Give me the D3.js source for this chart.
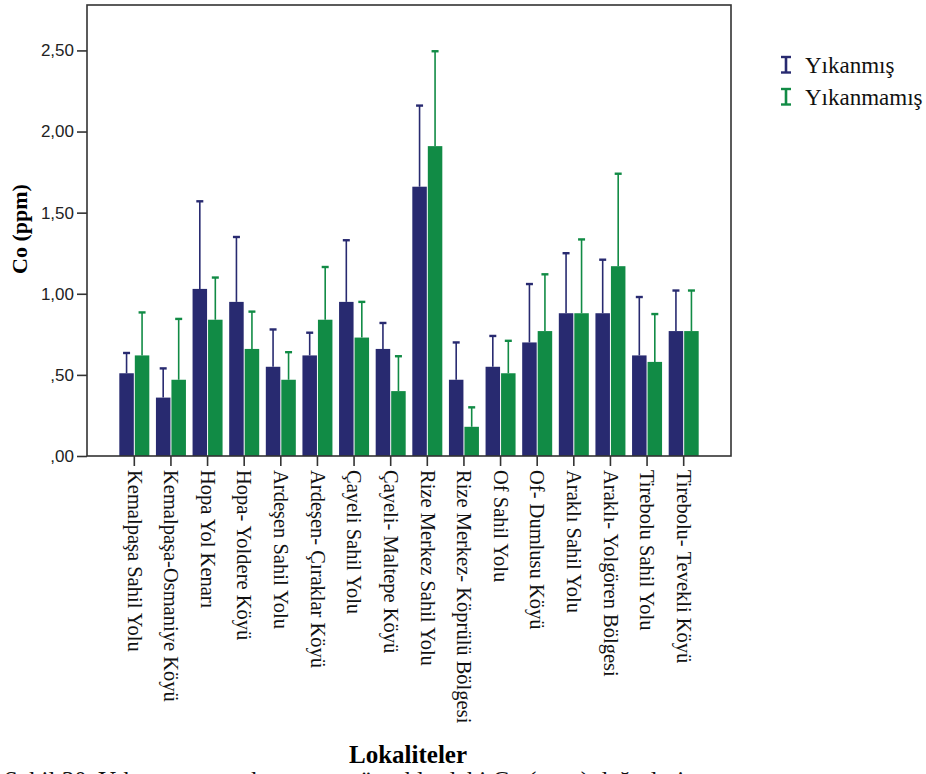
<!DOCTYPE html>
<html>
<head>
<meta charset="utf-8">
<script src="https://d3js.org/d3.v7.min.js"></script>
<style>
  body { margin: 0; background: #fff; }
  svg { display: block; }
</style>
</head>
<body>
<svg id="chart" width="926" height="774"></svg>
<script>
  // lokaliteler (categories)
  var lokaliteler = [
    "Kemalpaşa Sahil Yolu", "Kemalpaşa-Osmaniye Köyü", "Hopa Yol Kenarı",
    "Hopa- Yoldere Köyü", "Ardeşen Sahil Yolu", "Ardeşen- Çıraklar Köyü",
    "Çayeli Sahil Yolu", "Çayeli- Maltepe Köyü", "Rize Merkez Sahil Yolu",
    "Rize Merkez- Köprülü Bölgesi", "Of Sahil Yolu", "Of- Dumlusu Köyü",
    "Araklı Sahil Yolu", "Araklı- Yolgören Bölgesi", "Tirebolu Sahil Yolu",
    "Tirebolu- Tevekli Köyü"
  ];

  // mean values (ppm)
  var yikanmis   = [0.51, 0.36, 1.03, 0.95, 0.55, 0.62, 0.95, 0.66, 1.66, 0.47, 0.55, 0.70, 0.88, 0.88, 0.62, 0.77];
  var yikanmamis = [0.62, 0.47, 0.84, 0.66, 0.47, 0.84, 0.73, 0.40, 1.91, 0.18, 0.51, 0.77, 0.88, 1.17, 0.58, 0.77];

  // upper end of the error bars
  var yikanmisUst   = [0.635, 0.54, 1.57, 1.35, 0.78, 0.76, 1.33, 0.82, 2.16, 0.70, 0.74, 1.06, 1.25, 1.21, 0.98, 1.02];
  var yikanmamisUst = [0.885, 0.845, 1.10, 0.89, 0.64, 1.165, 0.95, 0.615, 2.495, 0.30, 0.71, 1.12, 1.335, 1.74, 0.875, 1.02];

  var yTicks = [0, 0.5, 1.0, 1.5, 2.0, 2.5];
  var yTickLabels = [",00", ",50", "1,00", "1,50", "2,00", "2,50"];

  var seriler = ["Yıkanmış", "Yıkanmamış"];
  var renkler = ["#282a70", "#118b45"];

  var frame = {left: 87, top: 5, right: 731, bottom: 456};

  var svg = d3.select("#chart");

  var x = d3.scaleBand()
    .domain(lokaliteler)
    .range([116, 702])
    .padding(0);

  var y = d3.scaleLinear()
    .domain([0, 2.78])
    .range([frame.bottom, frame.top]);

  var rows = lokaliteler.map(function(d, i) {
    return {
      name: d,
      vals: [
        {s: 0, mean: yikanmis[i], ust: yikanmisUst[i]},
        {s: 1, mean: yikanmamis[i], ust: yikanmamisUst[i]}
      ]
    };
  });

  var barW = 14.5;
  function barX(d, name) {
    var c = x(name) + x.bandwidth() / 2;
    return d.s === 0 ? c - barW - 0.5 : c + 0.5;
  }

  // bars
  var groups = svg.selectAll("g.grp")
    .data(rows)
    .enter()
    .append("g")
      .attr("class", "grp");

  groups.each(function(r) {
    var g = d3.select(this);
    g.selectAll("rect")
      .data(r.vals)
      .enter()
      .append("rect")
        .attr("x", function(d) { return barX(d, r.name); })
        .attr("y", function(d) { return y(d.mean); })
        .attr("width", barW)
        .attr("height", function(d) { return y(0) - y(d.mean); })
        .attr("fill", function(d) { return renkler[d.s]; });

    // error bars
    g.selectAll("line.err")
      .data(r.vals)
      .enter()
      .append("line")
        .attr("class", "err")
        .attr("x1", function(d) { return barX(d, r.name) + barW / 2; })
        .attr("x2", function(d) { return barX(d, r.name) + barW / 2; })
        .attr("y1", function(d) { return y(d.mean); })
        .attr("y2", function(d) { return y(d.ust); })
        .attr("stroke", function(d) { return renkler[d.s]; })
        .attr("stroke-width", 1.6);

    g.selectAll("line.cap")
      .data(r.vals)
      .enter()
      .append("line")
        .attr("class", "cap")
        .attr("x1", function(d) { return barX(d, r.name) + barW / 2 - 3.5; })
        .attr("x2", function(d) { return barX(d, r.name) + barW / 2 + 3.5; })
        .attr("y1", function(d) { return y(d.ust); })
        .attr("y2", function(d) { return y(d.ust); })
        .attr("stroke", function(d) { return renkler[d.s]; })
        .attr("stroke-width", 2.4);
  });

  // frame
  svg.append("rect")
    .attr("x", frame.left)
    .attr("y", frame.top)
    .attr("width", frame.right - frame.left)
    .attr("height", frame.bottom - frame.top)
    .attr("fill", "none")
    .attr("stroke", "#333")
    .attr("stroke-width", 1.6);

  // y axis
  var yAxis = svg.append("g")
    .attr("transform", "translate(" + frame.left + ",0)")
    .call(d3.axisLeft(y)
      .tickValues(yTicks)
      .tickSize(10)
      .tickSizeOuter(0)
      .tickFormat(function(d, i) { return yTickLabels[i]; }));
  yAxis.select(".domain").remove();
  yAxis.selectAll(".tick line").attr("stroke", "#333").attr("stroke-width", 1.6);
  yAxis.selectAll(".tick text")
    .attr("x", -13)
    .attr("fill", "#222")
    .style("font-family", "'Liberation Sans', Arial, sans-serif")
    .style("font-size", "17px");

  // x axis
  var xAxis = svg.append("g")
    .attr("transform", "translate(0," + frame.bottom + ")")
    .call(d3.axisBottom(x).tickSize(10).tickSizeOuter(0));
  xAxis.select(".domain").remove();
  xAxis.selectAll(".tick line").attr("stroke", "#333").attr("stroke-width", 1.6);
  xAxis.selectAll(".tick text")
    .attr("transform", "translate(0,14) rotate(90)")
    .attr("x", 0)
    .attr("y", 0)
    .attr("dy", "0.33em")
    .attr("text-anchor", "start")
    .attr("fill", "#111")
    .style("font-family", "'Liberation Serif', 'Times New Roman', serif")
    .style("font-size", "20.5px");

  // axis titles
  svg.append("text")
    .attr("transform", "translate(27,229) rotate(-90)")
    .attr("text-anchor", "middle")
    .style("font-family", "'Liberation Serif', 'Times New Roman', serif")
    .style("font-weight", "bold")
    .style("font-size", "22px")
    .text("Co (ppm)");

  svg.append("text")
    .attr("x", 408)
    .attr("y", 763)
    .attr("text-anchor", "middle")
    .style("font-family", "'Liberation Serif', 'Times New Roman', serif")
    .style("font-weight", "bold")
    .style("font-size", "25px")
    .text("Lokaliteler");

  // legend
  var legend = svg.selectAll("g.leg")
    .data(seriler)
    .enter()
    .append("g")
      .attr("class", "leg")
      .attr("transform", function(d, i) { return "translate(786," + (56 + i * 32) + ")"; });

  legend.append("line")
    .attr("x1", 0).attr("x2", 0).attr("y1", 0).attr("y2", 17)
    .attr("stroke", function(d, i) { return renkler[i]; })
    .attr("stroke-width", 2.6);
  legend.append("line")
    .attr("x1", -5).attr("x2", 5).attr("y1", 1).attr("y2", 1)
    .attr("stroke", function(d, i) { return renkler[i]; })
    .attr("stroke-width", 2.4);
  legend.append("line")
    .attr("x1", -5).attr("x2", 5).attr("y1", 16.5).attr("y2", 16.5)
    .attr("stroke", function(d, i) { return renkler[i]; })
    .attr("stroke-width", 2.4);
  legend.append("text")
    .attr("x", 19)
    .attr("y", 17)
    .attr("fill", "#111")
    .style("font-family", "'Liberation Serif', 'Times New Roman', serif")
    .style("font-size", "23px")
    .text(function(d) { return d; });

  // caption, cut off at the bottom of the picture
  svg.append("text")
    .attr("x", 4)
    .attr("y", 789)
    .attr("fill", "#111")
    .style("font-family", "'Liberation Serif', 'Times New Roman', serif")
    .style("font-size", "25px")
    .text("Şekil 30. Yıkanmış ve yıkanmamış örneklerdeki Co (ppm) değerleri");
</script>
</body>
</html>
